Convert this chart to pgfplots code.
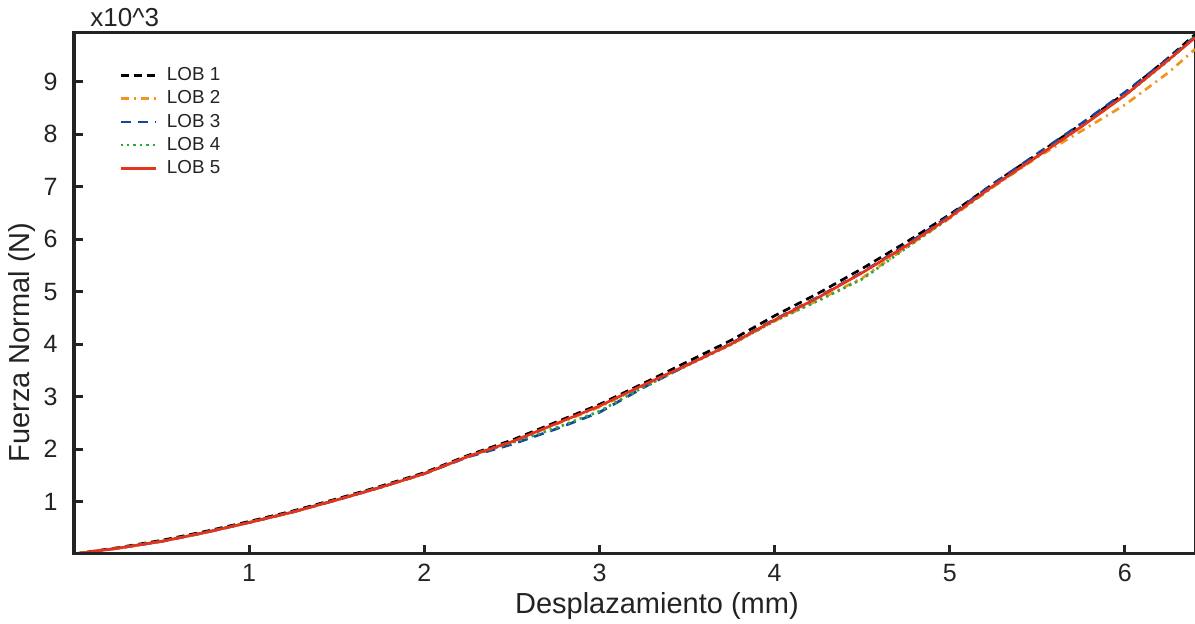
\documentclass[border=0pt]{standalone}
\usepackage{fontspec}
\setmainfont{Liberation Sans}
\usepackage{pgfplots}
\usepackage{pgfplotstable}
\pgfplotsset{compat=1.18}

\definecolor{axgray}{RGB}{35,35,35}
\definecolor{lobor}{RGB}{240,150,30}
\definecolor{lobbl}{RGB}{20,70,160}
\definecolor{lobgr}{RGB}{40,170,60}
\definecolor{lobrd}{RGB}{230,50,30}

% x en mm, fuerza en kN (x10^3 N)
\pgfplotstableread{
x    f1    f2    f3    f4    f5
0    0     0     0     0     0
0.25 0.12  0.11  0.11  0.11  0.11
0.5  0.26  0.24  0.24  0.24  0.24
0.75 0.43  0.41  0.41  0.41  0.41
1.0  0.62  0.60  0.60  0.60  0.60
1.25 0.82  0.80  0.80  0.80  0.80
1.5  1.05  1.03  1.03  1.03  1.03
1.75 1.29  1.27  1.27  1.27  1.27
2.0  1.55  1.53  1.53  1.53  1.53
2.25 1.88  1.86  1.85  1.86  1.86
2.5  2.17  2.14  2.09  2.12  2.14
2.75 2.51  2.47  2.38  2.40  2.48
3.0  2.85  2.80  2.70  2.72  2.82
3.25 3.25  3.21  3.17  3.18  3.22
3.5  3.66  3.60  3.60  3.59  3.60
3.75 4.07  3.99  4.01  3.99  4.00
4.0  4.54  4.44  4.47  4.44  4.46
4.25 4.97  4.84  4.90  4.83  4.89
4.5  5.44  5.26  5.37  5.24  5.36
4.75 5.94  5.84  5.89  5.83  5.87
5.0  6.47  6.40  6.45  6.41  6.42
5.25 7.06  7.00  7.06  7.01  7.02
5.5  7.62  7.56  7.63  7.58  7.58
5.75 8.19  8.06  8.20  8.15  8.14
6.0  8.78  8.56  8.80  8.74  8.74
6.25 9.46  9.18  9.45  9.41  9.42
6.4  9.90  9.62  9.86  9.85  9.84
}\lobdata

\begin{document}
\begin{tikzpicture}
\begin{axis}[
  scale only axis,
  width=560.5pt, height=260.5pt,
  xmin=0, xmax=6.4, ymin=0, ymax=9.93,
  axis line style={draw=axgray, line width=1.5pt},
  xtick={1,2,3,4,5,6}, ytick={1,...,9},
  major tick length=0pt,
  xtick pos=bottom, ytick pos=left,
  /pgf/number format/assume math mode=true,
  tick label style={font=\fontsize{12.5}{14}\selectfont, text=axgray},
  xticklabel style={inner sep=0pt, yshift=-5pt},
  yticklabel style={inner sep=0pt, xshift=-8pt},
  label style={font=\fontsize{14.5}{17}\selectfont, text=axgray},
  xlabel={Desplazamiento (mm)},
  xlabel style={at={([yshift=-26pt]axis description cs:0.52,0)}, anchor=center},
  ylabel={Fuerza Normal (N)},
  ylabel style={at={([xshift=-26pt]axis description cs:0,0.406)}, anchor=center},
  legend style={draw=none, fill=none, at={(axis description cs:0.04,0.94)},
    anchor=north west, inner sep=0pt, row sep=0.5pt,
    font=\fontsize{9.4}{11}\selectfont, text=axgray,
    nodes={inner sep=1.5pt},
    /tikz/every odd column/.append style={column sep=3.5pt}},
  legend cell align=left,
  legend image code/.code={\draw[#1, line width=1.35pt] (0pt,0pt) -- (17.5pt,0pt);},
  every axis plot/.append style={line width=1.35pt},
]
\addplot[black, dash pattern=on 4pt off 2.5pt] table[x=x, y=f1] {\lobdata};
\addlegendentry{LOB 1}
\addplot[lobor, dash pattern=on 4pt off 2.5pt on 1pt off 2.5pt] table[x=x, y=f2] {\lobdata};
\addlegendentry{LOB 2}
\addplot[lobbl, dash pattern=on 5pt off 3.5pt] table[x=x, y=f3] {\lobdata};
\addlegendentry{LOB 3}
\addplot[lobgr, dash pattern=on 1.2pt off 2pt] table[x=x, y=f4] {\lobdata};
\addlegendentry{LOB 4}
\addplot[lobrd] table[x=x, y=f5] {\lobdata};
\addlegendentry{LOB 5}
\end{axis}
% marco grueso (izquierda, abajo, arriba) y marcas hacia dentro
\draw[axgray, line width=1.5pt] (560.5pt,260.5pt) -- (0pt,260.5pt) -- (0pt,0pt) -- (560.5pt,0pt);
\foreach \i in {1,...,6}
  \draw[axgray, line width=1.5pt] (\i*87.578pt,0pt) -- ++(0pt,4.5pt);
\foreach \j in {1,...,9}
  \draw[axgray, line width=1.5pt] (0pt,\j*26.234pt) -- ++(4.5pt,0pt);
\node[anchor=base west, font=\fontsize{13}{15}\selectfont, text=axgray, inner sep=0pt]
  at (8pt,263.5pt) {x10\textasciicircum 3};
\pgfresetboundingbox
\path[use as bounding box] (-37pt,-35pt) rectangle (560.5pt,277pt);
\end{tikzpicture}
\end{document}
